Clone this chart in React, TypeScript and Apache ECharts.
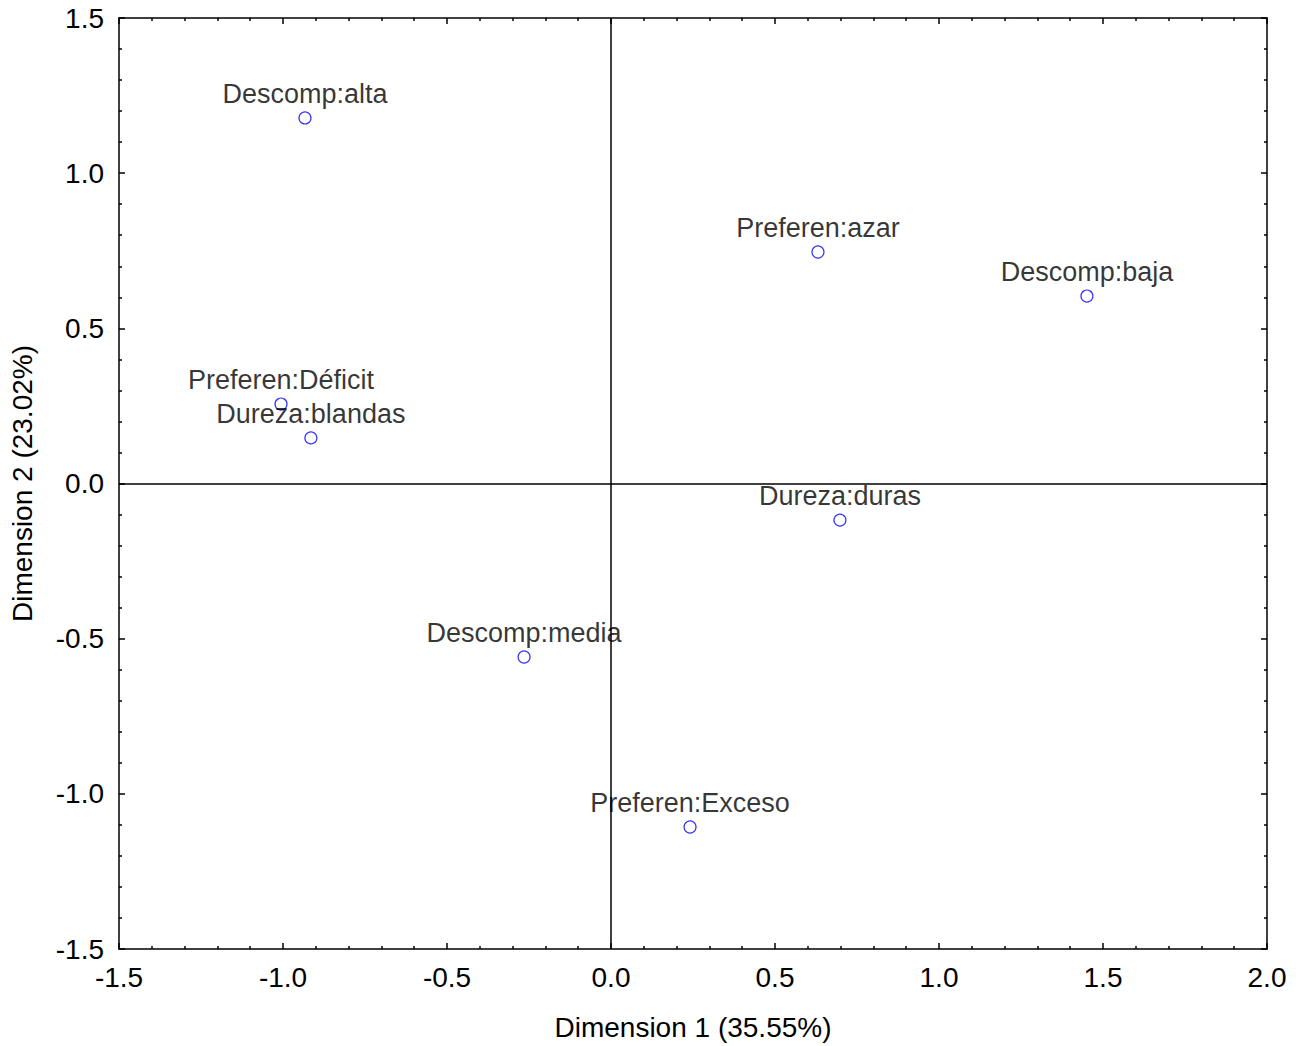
import React, { useEffect, useRef } from "react";
import * as echarts from "echarts";

const categories = [
  "Descomp:alta",
  "Preferen:azar",
  "Descomp:baja",
  "Preferen:Déficit",
  "Dureza:blandas",
  "Dureza:duras",
  "Descomp:media",
  "Preferen:Exceso",
];
const dim1 = [-0.933, 0.631, 1.451, -1.006, -0.915, 0.698, -0.265, 0.241];
const dim2 = [1.178, 0.746, 0.604, 0.256, 0.147, -0.118, -0.559, -1.107];

const xTitle = "Dimension 1 (35.55%)";
const yTitle = "Dimension 2 (23.02%)";

const FONT = "'Liberation Sans', Arial, sans-serif";

export default function App() {
  const ref = useRef<HTMLDivElement>(null);
  useEffect(() => {
    if (!ref.current) return;
    const chart = echarts.init(ref.current, null, { renderer: "svg" });
    const points = categories.map((c, i) => ({ name: c, value: [dim1[i], dim2[i]] }));
    const axisCommon = {
      type: "value" as const,
      interval: 0.5,
      axisLine: { show: true, onZero: false, lineStyle: { color: "#000", width: 1.5 } },
      axisTick: { show: true, inside: true, length: 6, lineStyle: { color: "#000", width: 1.5 } },
      minorTick: { show: true, splitNumber: 5, length: 3, lineStyle: { color: "#000", width: 1.5 } },
      splitLine: { show: false },
      minorSplitLine: { show: false },
    };
    const fmt = (v: number) => v.toFixed(1);
    chart.setOption({
      animation: false,
      backgroundColor: "#fff",
      textStyle: { fontFamily: FONT },
      grid: { left: 119, top: 18, right: 39, bottom: 97, containLabel: false, outerBoundsMode: "none" },
      xAxis: [
        {
          ...axisCommon,
          min: -1.5,
          max: 2.0,
          position: "bottom",
          name: xTitle,
          nameLocation: "middle",
          nameGap: 64,
          nameTextStyle: { fontSize: 28, color: "#000", fontFamily: FONT },
          axisLabel: { show: true, margin: 14, fontSize: 28, color: "#000", fontFamily: FONT, formatter: fmt },
        },
        {
          ...axisCommon,
          min: -1.5,
          max: 2.0,
          position: "top",
          axisLabel: { show: false },
        },
      ],
      yAxis: [
        {
          ...axisCommon,
          min: -1.5,
          max: 1.5,
          position: "left",
          name: yTitle,
          nameLocation: "middle",
          nameGap: 83,
          nameTextStyle: { fontSize: 28, color: "#000", fontFamily: FONT },
          axisLabel: { show: true, margin: 15, fontSize: 28, color: "#000", fontFamily: FONT, formatter: fmt },
        },
        {
          ...axisCommon,
          min: -1.5,
          max: 1.5,
          position: "right",
          axisLabel: { show: false },
        },
      ],
      series: [
        {
          type: "scatter",
          xAxisIndex: 0,
          yAxisIndex: 0,
          data: points,
          symbol: "circle",
          symbolSize: 12,
          itemStyle: { color: "#fff", borderColor: "#0000ff", borderWidth: 1.2 },
          label: {
            show: true,
            position: "top",
            distance: 4,
            formatter: (p: any) => p.name,
            fontSize: 27,
            color: "#000",
            fontFamily: FONT,
          },
          markLine: {
            silent: true,
            symbol: "none",
            label: { show: false },
            lineStyle: { color: "#000", width: 1.5, type: "solid" },
            data: [{ xAxis: 0 }, { yAxis: 0 }],
          },
          z: 3,
        },
      ],
    });
    return () => chart.dispose();
  }, []);
  return <div ref={ref} style={{ width: 1306, height: 1046, marginTop: -8, marginLeft: -8 }} />;
}
